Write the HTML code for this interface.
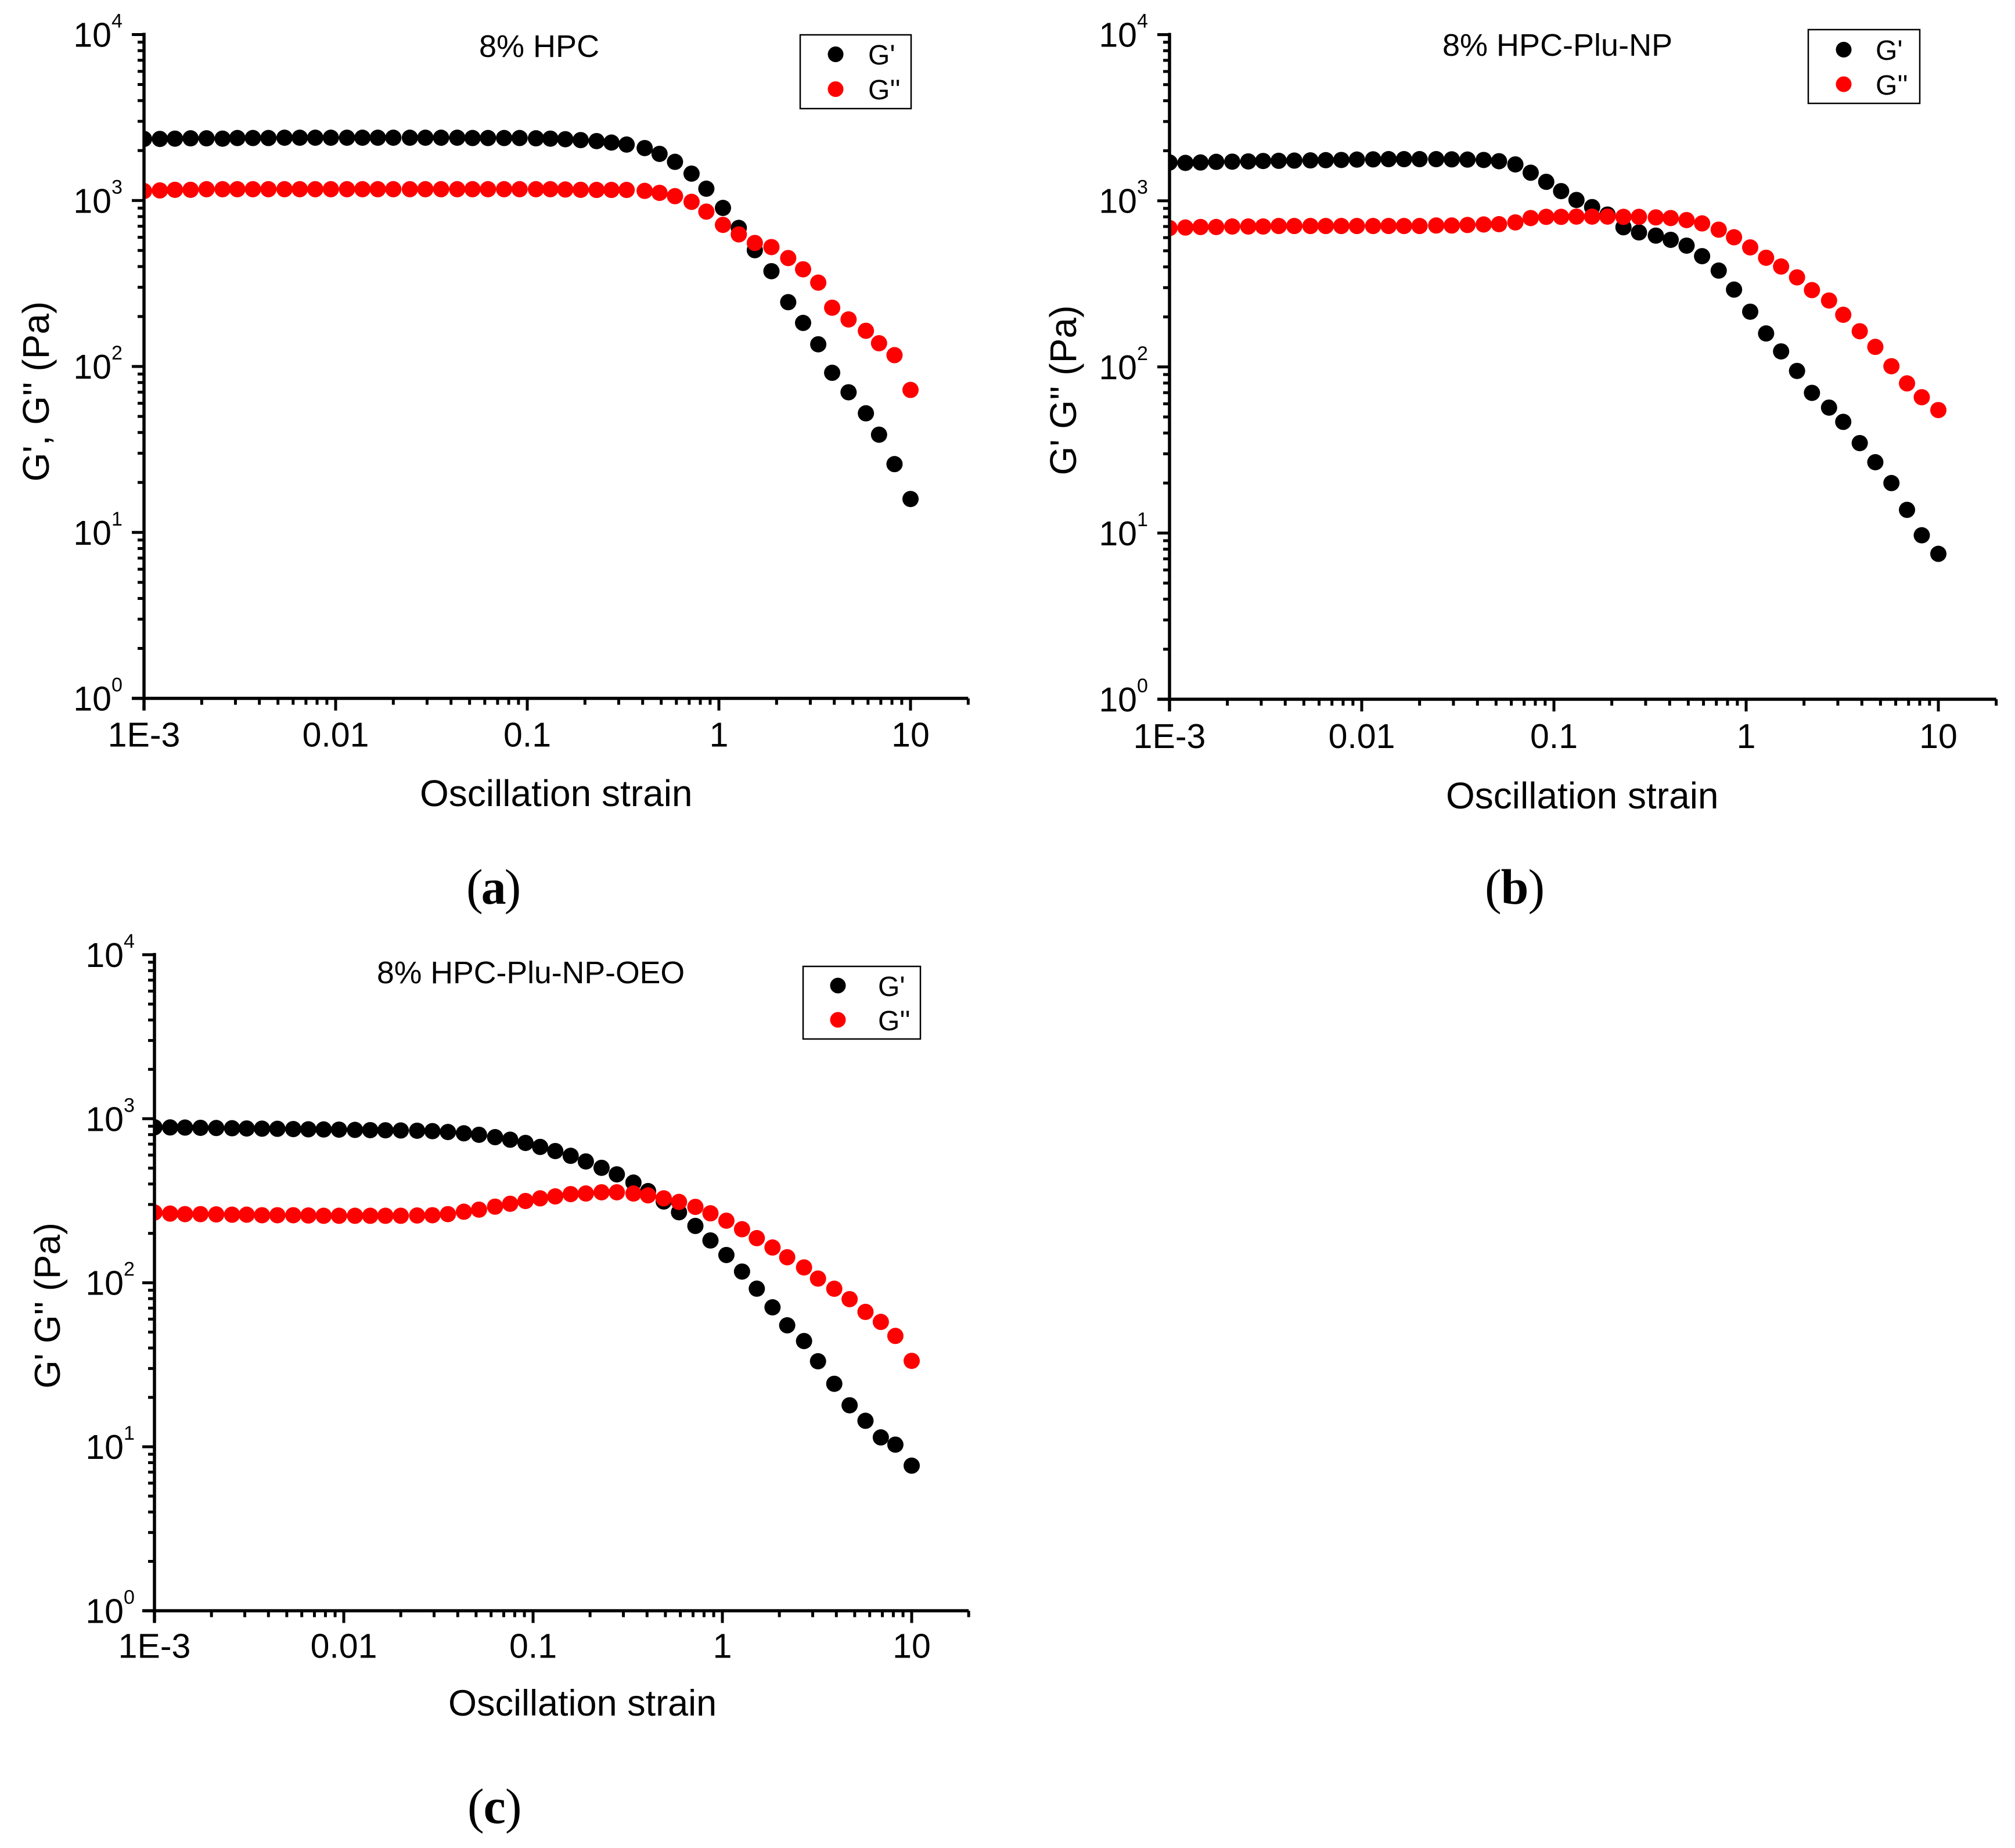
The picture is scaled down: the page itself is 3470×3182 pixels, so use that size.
<!DOCTYPE html>
<html lang="en">
<head>
<meta charset="utf-8">
<title>Oscillation strain sweeps of HPC gels</title>
<style>
  html, body { margin: 0; padding: 0; background: #ffffff; }
  svg { display: block; }
  text { font-family: "Liberation Sans", Arial, sans-serif; fill: #000; }
  .tick { font-size: 59px; }
  .sup { font-size: 34px; }
  .title { font-size: 54px; }
  .legend-text { font-size: 48px; }
  .panel-label { font-family: "Liberation Serif", "Times New Roman", serif; font-size: 86px; }
  .panel-label tspan { font-weight: bold; }
</style>
</head>
<body>
<svg id="figure" xmlns="http://www.w3.org/2000/svg" width="3470" height="3182" viewBox="0 0 3470 3182">
  <rect x="0" y="0" width="3470" height="3182" fill="#ffffff"/>

  <g id="panel-a">
    <g class="plot"></g>
    <text class="title" x="825" y="98">8% HPC</text>
    <text x="723" y="1388" font-size="64">Oscillation strain</text>
    <text font-size="64" text-anchor="middle" transform="translate(84 674) rotate(-90)">G', G'' (Pa)</text>
    <g>
      <rect x="1378" y="60" width="191" height="127" fill="none" stroke="#000" stroke-width="2.5"/>
      <circle cx="1439" cy="93.5" r="13.5" fill="#000"/>
      <text class="legend-text" x="1495" y="111">G'</text>
      <circle cx="1439" cy="153.5" r="13.5" fill="#ff0000"/>
      <text class="legend-text" x="1495" y="171">G''</text>
    </g>
    <text class="panel-label" letter-spacing="-3" x="803" y="1556">(<tspan>a</tspan>)</text>
  </g>

  <g id="panel-b">
    <g class="plot"></g>
    <text class="title" x="2484" y="96">8% HPC-Plu-NP</text>
    <text x="2490" y="1392" font-size="64">Oscillation strain</text>
    <text font-size="64" text-anchor="middle" transform="translate(1853 672) rotate(-90)">G' G'' (Pa)</text>
    <g>
      <rect x="3114" y="51" width="192" height="127" fill="none" stroke="#000" stroke-width="2.5"/>
      <circle cx="3175" cy="85.5" r="13.5" fill="#000"/>
      <text class="legend-text" x="3230" y="103">G'</text>
      <circle cx="3175" cy="145" r="13.5" fill="#ff0000"/>
      <text class="legend-text" x="3230" y="163">G''</text>
    </g>
    <text class="panel-label" letter-spacing="-1" x="2557" y="1556">(<tspan>b</tspan>)</text>
  </g>

  <g id="panel-c">
    <g class="plot"></g>
    <text font-size="53.6" x="649" y="1693">8% HPC-Plu-NP-OEO</text>
    <text x="772" y="2954" font-size="63">Oscillation strain</text>
    <text font-size="62.5" text-anchor="middle" transform="translate(103 2248) rotate(-90)">G' G'' (Pa)</text>
    <g>
      <rect x="1383" y="1664" width="202" height="125" fill="none" stroke="#000" stroke-width="2.5"/>
      <circle cx="1443" cy="1697" r="13.5" fill="#000"/>
      <text class="legend-text" x="1512" y="1715">G'</text>
      <circle cx="1443" cy="1756" r="13.5" fill="#ff0000"/>
      <text class="legend-text" x="1512" y="1774">G''</text>
    </g>
    <text class="panel-label" letter-spacing="-1" x="805" y="3139">(<tspan>c</tspan>)</text>
  </g>
</svg>

<script>
// ---- Chart data ----
const xTickValues = [0.001, 0.01, 0.1, 1, 10];
const xTickLabels = ['1E-3', '0.01', '0.1', '1', '10'];
const yTickValues = [1, 10, 100, 1000, 10000];
const yTickExponents = ['0', '1', '2', '3', '4'];
const minorMultiples = [2, 3, 4, 5, 6, 7, 8, 9];

const strainA = [0.001,0.00121,0.00145,0.00175,0.00212,0.00257,0.00307,0.0037,0.00446,0.00541,
  0.0065,0.00783,0.00944,0.01146,0.0138,0.0166,0.02,0.0244,0.0294,0.0355,
  0.0431,0.0518,0.0624,0.0757,0.0912,0.111,0.132,0.158,0.19,0.23,
  0.275,0.33,0.41,0.49,0.59,0.72,0.86,1.05,1.27,1.54,
  1.88,2.3,2.75,3.3,3.9,4.75,5.85,6.85,8.25,10];
const storageA = [2350,2350,2360,2370,2370,2360,2380,2380,2380,2390,
  2390,2390,2390,2390,2390,2390,2390,2390,2390,2390,
  2390,2380,2380,2380,2380,2370,2360,2340,2312,2280,
  2234,2173,2070,1910,1710,1452,1178,902,684,502,
  375,244,183,136,91.6,69.9,52.2,38.8,25.8,15.9];
const lossA = [1140,1150,1160,1160,1170,1170,1170,1170,1170,1170,
  1170,1170,1170,1170,1170,1170,1170,1170,1170,1170,
  1170,1170,1170,1170,1170,1170,1170,1165,1160,1158,
  1158,1158,1143,1112,1062,982,857,713,625,555,
  524,450,385,320,226,192,164,138,117,72.2];

const strainBC = [0.001,0.00121,0.00145,0.00175,0.00212,0.00257,0.00307,0.0037,0.00446,0.00541,
  0.0065,0.00783,0.00944,0.01146,0.0138,0.0166,0.02,0.0244,0.0294,0.0355,
  0.0431,0.0518,0.063,0.0757,0.0912,0.109,0.131,0.158,0.19,0.23,
  0.277,0.339,0.405,0.49,0.59,0.72,0.865,1.05,1.27,1.52,
  1.84,2.2,2.7,3.2,3.9,4.7,5.7,6.87,8.2,10];
const storageB = [1700,1690,1700,1715,1720,1725,1735,1740,1745,1750,
  1755,1760,1770,1775,1780,1780,1780,1780,1775,1770,
  1760,1730,1655,1475,1300,1143,1011,916,826,693,
  645,617,582,537,464,380,292,215,159,124,
  94.6,69.8,56.9,46.7,34.8,26.7,20,13.8,9.7,7.5];
const lossB = [685,690,695,695,700,700,700,705,705,705,
  705,705,705,705,705,705,705,710,710,715,
  720,723,741,787,800,800,803,803,803,800,
  800,794,787,765,731,670,603,524,454,402,
  346,290,251,206,164,132,101,79.6,65.7,55];
const storageC = [887,885,883,880,878,875,872,870,868,865,
  862,860,858,855,852,850,848,845,840,830,
  815,798,772,745,712,673,635,594,549,502,
  458,408,362,313,269,222,181,147.6,117,92,
  70.8,55,44.1,33.2,24.2,17.9,14.4,11.4,10.3,7.67];
const lossC = [268,264,262,262,261,260,260,258,258,258,
  257,256,256,256,256,256,256,257,258,262,
  271,279,291,303,315,327,336,347,350,356,
  356,350,341,327,311,290,265,239,212,187,
  164,143,124,106,91.9,79.4,66.4,57.7,47.4,33.4];

// ---- Axis geometry per panel ----
const panels = [
  { id: 'a', x1e3: 248, xDecade: 330, y1: 1202.5, yDecade: 285.75, strain: strainA, storage: storageA, loss: lossA, labelGap: 56, xLabelDrop: 83 },
  { id: 'b', x1e3: 2014, xDecade: 331, y1: 1204, yDecade: 286.1, strain: strainBC, storage: storageB, loss: lossB, labelGap: 56, xLabelDrop: 84 },
  { id: 'c', x1e3: 266, xDecade: 326, y1: 2773.5, yDecade: 282.4, strain: strainBC, storage: storageC, loss: lossC, labelGap: 53, xLabelDrop: 81 }
];

const SVG_NS = 'http://www.w3.org/2000/svg';
const AXIS_MAX_X = 20;
const AXIS_MIN_X = 0.001;
const AXIS_W = 5.5;
const MAJOR_LEN = 21;
const MINOR_LEN = 11;
const MARKER_R = 14;

function make(parent, tag, attrs, content) {
  const el = document.createElementNS(SVG_NS, tag);
  for (const key in attrs) el.setAttribute(key, attrs[key]);
  if (content !== undefined) el.textContent = content;
  parent.appendChild(el);
  return el;
}

function drawPanel(p) {
  const root = document.querySelector('#panel-' + p.id + ' .plot');
  const xAt = function (v) { return p.x1e3 + (Math.log10(v) - Math.log10(AXIS_MIN_X)) * p.xDecade; };
  const yAt = function (v) { return p.y1 - Math.log10(v) * p.yDecade; };

  // Clip marks at the left axis, as the original plot does
  const clip = make(root, 'clipPath', { id: 'plot-clip-' + p.id });
  
  
  make(clip, 'rect', { x: xAt(AXIS_MIN_X), y: yAt(10000) - 40, width: xAt(AXIS_MAX_X) - xAt(AXIS_MIN_X) + 40, height: yAt(1) - yAt(10000) + 80 });

  // Series points: storage modulus first, loss modulus on top
  const marks = make(root, 'g', { 'clip-path': 'url(#plot-clip-' + p.id + ')' });
  
  
  p.storage.forEach(function (v, i) {
    const dot = make(marks, 'circle', { cx: xAt(p.strain[i]), cy: yAt(v), r: MARKER_R, fill: '#000000' });
    
    
  });
  p.loss.forEach(function (v, i) {
    const dot = make(marks, 'circle', { cx: xAt(p.strain[i]), cy: yAt(v), r: MARKER_R, fill: '#ff0000' });
    
    
  });

  // X axis spine and ticks
  const xSpine = make(root, 'line', { x1: xAt(AXIS_MIN_X) - MAJOR_LEN, x2: xAt(AXIS_MAX_X), y1: yAt(1), y2: yAt(1), stroke: '#000', 'stroke-width': AXIS_W });
  
  
  xTickValues.forEach(function (v, i) {
    const tick = make(root, 'line', { x1: xAt(v), x2: xAt(v), y1: yAt(1), y2: yAt(1) + MAJOR_LEN, stroke: '#000', 'stroke-width': 5 });
    
    
    const label = make(root, 'text', { x: xAt(v), y: yAt(1) + p.xLabelDrop, 'text-anchor': 'middle', class: 'tick' }, xTickLabels[i]);
    
    
    minorMultiples.forEach(function (m) {
      if (v * m > AXIS_MAX_X) return;
      const minor = make(root, 'line', { x1: xAt(v * m), x2: xAt(v * m), y1: yAt(1), y2: yAt(1) + MINOR_LEN, stroke: '#000', 'stroke-width': 5 });
      
      
    });
  });

  // Y axis spine and ticks
  const ySpine = make(root, 'line', { x1: xAt(AXIS_MIN_X), x2: xAt(AXIS_MIN_X), y1: yAt(10000) - 3, y2: yAt(1) + MAJOR_LEN, stroke: '#000', 'stroke-width': AXIS_W });
  
  
  yTickValues.forEach(function (v, i) {
    const tick = make(root, 'line', { x1: xAt(AXIS_MIN_X) - MAJOR_LEN, x2: xAt(AXIS_MIN_X), y1: yAt(v), y2: yAt(v), stroke: '#000', 'stroke-width': 5 });
    
    
    const base = make(root, 'text', { x: xAt(AXIS_MIN_X) - p.labelGap, y: yAt(v) + 21, 'text-anchor': 'end', class: 'tick' }, '10');
    
    
    const sup = make(root, 'text', { x: xAt(AXIS_MIN_X) - p.labelGap, y: yAt(v) - 12, class: 'sup' }, yTickExponents[i]);
    
    
    if (v < 10000) {
      minorMultiples.forEach(function (m) {
        const minor = make(root, 'line', { x1: xAt(AXIS_MIN_X) - MINOR_LEN, x2: xAt(AXIS_MIN_X), y1: yAt(v * m), y2: yAt(v * m), stroke: '#000', 'stroke-width': 5 });
        
        
      });
    }
  });
}

panels.forEach(drawPanel);
</script>
</body>
</html>
